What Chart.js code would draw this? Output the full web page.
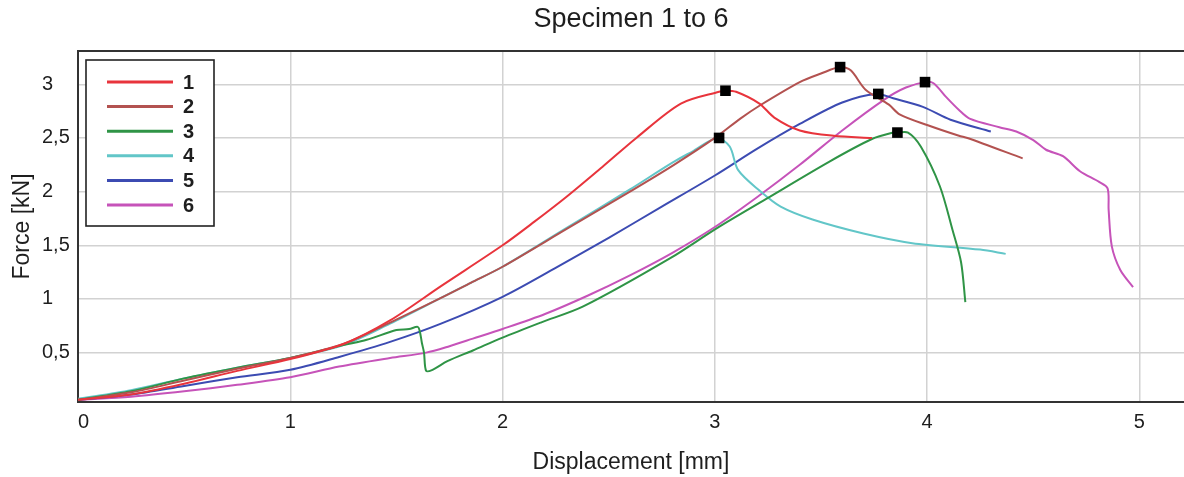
<!DOCTYPE html>
<html>
<head>
<meta charset="utf-8">
<script src="https://cdn.jsdelivr.net/npm/chart.js@4.4.1/dist/chart.umd.min.js"></script>
<style>
html,body{margin:0;padding:0;background:#fff;}
canvas{display:block;}
</style>
</head>
<body>
<canvas id="c" width="1184" height="477"></canvas>
<script>
// ---- data ----
const seriesNames = ['1','2','3','4','5','6'];
const seriesColors = ['#e8343c','#b35250','#2f9446','#62c6c8','#3c4bb2','#c653b9'];

const s1x = [0,0.25,0.5,0.75,1.0,1.25,1.47,1.71,2.0,2.15,2.30,2.47,2.63,2.84,3.02,3.05,3.10,3.21,3.28,3.40,3.56,3.74];
const s1y = [0.06,0.11,0.21,0.33,0.44,0.58,0.80,1.12,1.50,1.72,1.95,2.23,2.50,2.82,2.93,2.94,2.93,2.82,2.69,2.57,2.52,2.50];

const s2x = [0,0.25,0.5,0.75,1.0,1.25,1.47,1.71,1.85,2.0,2.3,2.6,2.8,3.0,3.12,3.21,3.40,3.50,3.59,3.64,3.71,3.82,3.87,4.0,4.15,4.19,4.45];
const s2y = [0.06,0.13,0.24,0.35,0.45,0.58,0.78,1.01,1.15,1.30,1.65,2.00,2.24,2.50,2.68,2.80,3.02,3.10,3.16,3.13,2.95,2.81,2.72,2.62,2.52,2.50,2.31];

const s3x = [0,0.25,0.5,0.75,1.0,1.25,1.36,1.50,1.56,1.60,1.61,1.62,1.63,1.64,1.67,1.74,1.86,2.0,2.18,2.38,2.79,3.01,3.24,3.54,3.74,3.84,3.86,3.91,3.97,4.06,4.12,4.16,4.18];
const s3y = [0.06,0.14,0.26,0.36,0.45,0.57,0.62,0.71,0.72,0.74,0.70,0.59,0.50,0.33,0.34,0.42,0.52,0.64,0.78,0.93,1.38,1.66,1.93,2.28,2.49,2.55,2.55,2.55,2.42,2.05,1.64,1.34,0.97];

const s4x = [0,0.25,0.5,0.75,1.0,1.25,1.47,1.71,1.85,2.0,2.3,2.6,2.8,2.9,3.01,3.07,3.11,3.21,3.31,3.46,3.70,3.93,4.25,4.37];
const s4y = [0.07,0.15,0.26,0.36,0.45,0.57,0.77,1.01,1.15,1.30,1.66,2.02,2.27,2.38,2.50,2.42,2.20,2.01,1.86,1.74,1.61,1.52,1.46,1.42];

const s5x = [0,0.25,0.5,0.75,1.0,1.23,1.47,1.71,2.0,2.25,2.5,2.75,3.0,3.2,3.4,3.6,3.76,3.84,3.98,4.11,4.30];
const s5y = [0.06,0.11,0.19,0.27,0.34,0.46,0.60,0.77,1.02,1.29,1.57,1.86,2.15,2.40,2.63,2.83,2.91,2.87,2.79,2.67,2.56];

const s6x = [0,0.25,0.5,0.75,1.0,1.23,1.47,1.64,1.75,1.86,2.0,2.2,2.4,2.6,2.8,3.0,3.2,3.4,3.6,3.8,3.9,3.99,4.03,4.09,4.15,4.20,4.34,4.42,4.50,4.56,4.64,4.72,4.81,4.85,4.855,4.87,4.91,4.97];
const s6y = [0.06,0.09,0.14,0.20,0.27,0.37,0.45,0.50,0.56,0.63,0.72,0.86,1.03,1.22,1.43,1.67,1.95,2.25,2.57,2.86,2.97,3.02,3.01,2.88,2.76,2.68,2.60,2.56,2.48,2.39,2.33,2.19,2.09,2.03,1.83,1.49,1.27,1.11];

// peak markers
const peakX = [3.05,3.59,3.86,3.02,3.77,3.99];
const peakY = [2.94,3.16,2.55,2.50,2.91,3.02];

const xTickValues = [0,1,2,3,4,5];
const xTickLabels = ['0','1','2','3','4','5'];
const yTickValues = [0.5,1,1.5,2,2.5,3];
const yTickLabels = ['0,5','1','1,5','2','2,5','3'];

const titleText = 'Specimen 1 to 6';
const xTitle = 'Displacement [mm]';
const yTitle = 'Force [kN]';

// ---- chart ----
const FONT = "'Liberation Sans', Arial, Helvetica, sans-serif";
const TXT = '#1e1e1e';
const xs = [s1x,s2x,s3x,s4x,s5x,s6x];
const ys = [s1y,s2y,s3y,s4y,s5y,s6y];

const lineSets = xs.map((xa, k) => ({
  type: 'line',
  label: seriesNames[k],
  data: xa.map((x, i) => ({x: x, y: ys[k][i]})),
  borderColor: seriesColors[k],
  borderWidth: 2,
  pointRadius: 0,
  tension: 0.3,
  fill: false,
  xAxisID: 'x', yAxisID: 'y',
  order: k + 1
}));

const markerSet = {
  type: 'scatter',
  label: 'peaks',
  data: peakX.map((x, i) => ({x: x, y: peakY[i]})),
  pointStyle: 'rect',
  pointRadius: 7.5,
  backgroundColor: '#000',
  borderColor: '#000',
  borderWidth: 0,
  showLine: false,
  xAxisID: 'x', yAxisID: 'y',
  order: 0
};

const boxLegend = {
  id: 'boxLegend',
  afterDatasetsDraw(chart) {
    const ctx = chart.ctx;
    ctx.save();
    ctx.fillStyle = '#fff';
    ctx.fillRect(86, 60, 128, 166);
    ctx.strokeStyle = '#222';
    ctx.lineWidth = 1.6;
    ctx.strokeRect(86, 60, 128, 166);
    ctx.font = 'bold 20px ' + FONT;
    ctx.textBaseline = 'middle';
    ctx.textAlign = 'left';
    seriesNames.forEach((n, i) => {
      const y = 82 + i * 24.6;
      ctx.strokeStyle = seriesColors[i];
      ctx.lineWidth = 3;
      ctx.beginPath();
      ctx.moveTo(107, y);
      ctx.lineTo(173, y);
      ctx.stroke();
      ctx.fillStyle = TXT;
      ctx.fillText(n, 183, y + 1);
    });
    ctx.restore();
  }
};

function noPad(s) { s.paddingLeft = 0; s.paddingRight = 0; s.paddingTop = 0; s.paddingBottom = 0; }

new Chart(document.getElementById('c'), {
  type: 'line',
  data: { datasets: [markerSet].concat(lineSets) },
  options: {
    responsive: false,
    animation: false,
    layout: { padding: 0, autoPadding: false },
    plugins: { legend: { display: false }, tooltip: { enabled: false }, title: { display: false } },
    scales: {
      x: {
        type: 'linear', position: 'bottom', min: 0, max: 5.21,
        afterBuildTicks: s => { s.ticks = xTickValues.map(v => ({value: v})); },
        afterFit: s => { s.height = 75; noPad(s); },
        ticks: {
          font: { size: 20, family: FONT }, color: TXT, padding: 8, maxRotation: 0,
          callback: (v, i) => i === 0 ? '  ' + xTickLabels[i] : xTickLabels[i]
        },
        grid: { color: '#d2d2d2', lineWidth: 1.5, drawTicks: false },
        border: { color: '#333', width: 2 },
        title: { display: true, text: xTitle, color: TXT, font: { size: 23, family: FONT }, padding: { top: 0, bottom: 1 } }
      },
      x2: {
        type: 'linear', position: 'top', min: 0, max: 1,
        afterFit: s => { s.height = 51; noPad(s); },
        ticks: { display: false },
        grid: { display: false, drawTicks: false },
        border: { display: true, color: '#333', width: 2 },
        title: { display: true, text: titleText, color: TXT, font: { size: 27, family: FONT }, padding: { top: 3, bottom: 0 } }
      },
      y: {
        type: 'linear', position: 'left', min: 0.04, max: 3.31, weight: 0,
        afterBuildTicks: s => { s.ticks = yTickValues.map(v => ({value: v})); },
        afterFit: s => { s.width = 36; noPad(s); },
        ticks: {
          font: { size: 20, family: FONT }, color: TXT, crossAlign: 'far', padding: 4,
          callback: (v, i) => yTickLabels[i]
        },
        grid: { color: '#d2d2d2', lineWidth: 1.5, drawTicks: false },
        border: { color: '#333', width: 2 }
      },
      yT: {
        type: 'linear', position: 'left', min: 0, max: 1, weight: 10,
        afterFit: s => { s.width = 42; noPad(s); },
        ticks: { display: false },
        grid: { display: false, drawTicks: false },
        border: { display: false },
        title: { display: true, text: yTitle, color: TXT, font: { size: 23, family: FONT }, padding: { top: 9, bottom: 0 } }
      }
    }
  },
  plugins: [boxLegend]
});
</script>
</body>
</html>
